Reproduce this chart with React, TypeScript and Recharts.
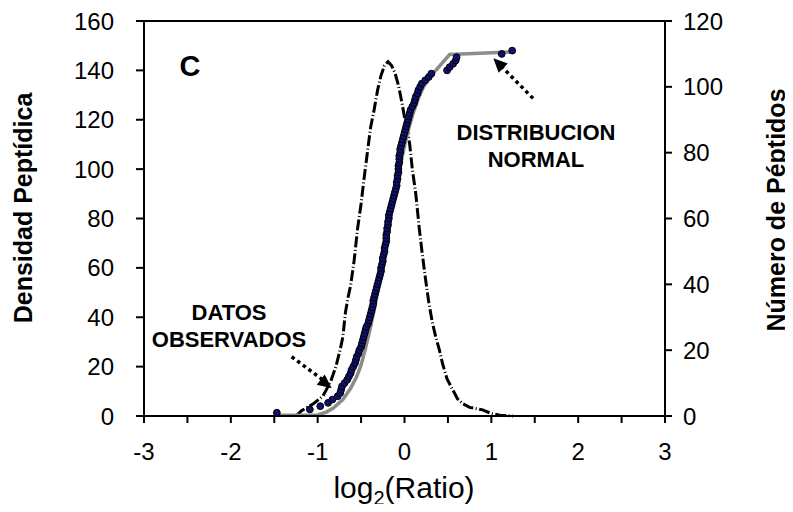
import React from "react";
import {
  ComposedChart,
  Line,
  Scatter,
  XAxis,
  YAxis,
  ReferenceLine,
  ReferenceDot,
} from "recharts";

const FONT = "'Liberation Sans', Arial, Helvetica, sans-serif";

// axis ticks
const xTicks = [-3, -2.5, -2, -1.5, -1, -0.5, 0, 0.5, 1, 1.5, 2, 2.5, 3];
const densityTicks = [0, 20, 40, 60, 80, 100, 120, 140, 160];
const countTicks = [0, 20, 40, 60, 80, 100, 120];

// peptide density (left axis)
const densityX = [
  -1.25, -1.19, -1.05, -0.94, -0.85, -0.79, -0.74, -0.71, -0.68, -0.65, -0.62,
  -0.58, -0.54, -0.5, -0.47, -0.43, -0.39, -0.35, -0.31, -0.27, -0.23, -0.19,
  -0.15, -0.11, -0.07, -0.03, 0.0, 0.03, 0.06, 0.09, 0.13, 0.17, 0.2, 0.24,
  0.28, 0.32, 0.36, 0.4, 0.44, 0.49, 0.55, 0.61, 0.67, 0.75, 0.9, 1.0, 1.1,
  1.25,
];
const densityY = [
  0, 2, 5, 8, 14, 20, 27, 32, 42, 48, 53, 63, 76, 86, 95, 106, 117, 124, 132,
  138, 142, 143.5, 142, 139, 134, 127, 121, 117, 110, 100, 90, 76, 67, 56, 46,
  38, 32, 27, 21, 15, 11, 7, 5, 3.5, 2.5, 1, 0.3, 0,
];

// fitted normal distribution, cumulative (right axis)
const normalX = [
  -1.48, -1.0, -0.9, -0.82, -0.71, -0.62, -0.55, -0.5, -0.45, -0.4, -0.35, -0.3,
  -0.25, -0.2, -0.15, -0.1, -0.05, 0.0, 0.05, 0.1, 0.16, 0.22, 0.31, 0.52, 1.24,
];
const normalN = [
  0.2, 0.3, 1.2, 2.4, 5, 8.4, 12, 15.5, 20.5, 26, 32, 39, 46, 54, 62, 69, 76,
  82, 87.5, 92, 96.5, 100, 103.5, 109.8, 110.6,
];

// observed peptides, cumulative (right axis)
const observedX = [
  -1.47, -1.09, -0.97, -0.88, -0.83, -0.77, -0.74, -0.73, -0.72, -0.69,
  -0.66, -0.64, -0.62, -0.61, -0.59, -0.57, -0.56, -0.55, -0.53, -0.52,
  -0.5, -0.49, -0.48, -0.47, -0.46, -0.45, -0.44, -0.42, -0.41, -0.4,
  -0.39, -0.38, -0.37, -0.36, -0.36, -0.35, -0.34, -0.33, -0.32, -0.31,
  -0.3, -0.29, -0.28, -0.27, -0.27, -0.26, -0.25, -0.25, -0.24, -0.23,
  -0.23, -0.22, -0.21, -0.21, -0.21, -0.2, -0.2, -0.19, -0.19, -0.18,
  -0.18, -0.17, -0.16, -0.15, -0.14, -0.13, -0.12, -0.11, -0.1, -0.09,
  -0.09, -0.08, -0.08, -0.07, -0.07, -0.07, -0.06, -0.06, -0.06, -0.05,
  -0.05, -0.04, -0.03, -0.02, -0.01, 0.0, 0.01, 0.02, 0.03, 0.04,
  0.05, 0.06, 0.07, 0.09, 0.11, 0.12, 0.13, 0.15, 0.16, 0.18,
  0.2, 0.24, 0.28, 0.31, 0.49, 0.52, 0.56, 0.59, 0.6, 1.12, 1.24,
];
const observedN = [
  1, 2, 3, 4, 5, 6, 7, 8, 9, 10,
  11, 12, 13, 14, 15, 16, 17, 18, 19, 20,
  21, 22, 23, 24, 25, 26, 27, 28, 29, 30,
  31, 32, 33, 34, 35, 36, 37, 38, 39, 40,
  41, 42, 43, 44, 45, 46, 47, 48, 49, 50,
  51, 52, 53, 54, 55, 56, 57, 58, 59, 60,
  61, 62, 63, 64, 65, 66, 67, 68, 69, 70,
  71, 72, 73, 74, 75, 76, 77, 78, 79, 80,
  81, 82, 83, 84, 85, 86, 87, 88, 89, 90,
  91, 92, 93, 94, 95, 96, 97, 98, 99, 100,
  101, 102, 103, 104, 105, 106, 107, 108, 109, 110, 111,
];

const densityData = densityX.map((x, i) => ({ x, y: densityY[i] }));
const normalData = normalX.map((x, i) => ({ x, y: normalN[i] }));
const observedData = observedX.map((x, i) => ({ x, y: observedN[i] }));

const tickStyle = { fill: "#000", fontSize: 24, fontFamily: FONT };
const axisStroke = { stroke: "#000", strokeWidth: 2 };

const Dot = (props: any) => (
  <circle cx={props.cx} cy={props.cy} r={3.4} fill="#10106e" stroke="#000" strokeWidth={1} />
);

const arrowHead = (angle: number) => (props: any) => (
  <polygon
    points="0,0 -14,-6.5 -14,6.5"
    fill="#000"
    transform={`translate(${props.cx},${props.cy}) rotate(${angle})`}
  />
);

const App = () => {
  return (
    <div style={{ position: "relative", width: 777, height: 496, fontFamily: FONT }}>
      <ComposedChart
        width={777}
        height={496}
        margin={{ top: 13, right: 60, bottom: 38, left: 76 }}
      >
        <XAxis
          dataKey="x"
          type="number"
          domain={[-3, 3]}
          ticks={xTicks}
          tickFormatter={(v: number) => (Number.isInteger(v) ? String(v) : "")}
          height={50}
          tickSize={7}
          tickMargin={20}
          tick={tickStyle}
          axisLine={axisStroke}
          tickLine={axisStroke}
        />
        <YAxis
          yAxisId="left"
          type="number"
          domain={[0, 160]}
          ticks={densityTicks}
          width={60}
          tickSize={8}
          tickMargin={22}
          tick={tickStyle}
          axisLine={axisStroke}
          tickLine={axisStroke}
        />
        <YAxis
          yAxisId="right"
          orientation="right"
          type="number"
          domain={[0, 120]}
          ticks={countTicks}
          width={60}
          tickSize={7}
          tickMargin={11}
          tick={{ ...tickStyle, textAnchor: "start" }}
          axisLine={axisStroke}
          tickLine={axisStroke}
        />
        <ReferenceLine yAxisId="left" y={160} stroke="#000" strokeWidth={2} />

        <Line
          yAxisId="left"
          data={densityData}
          dataKey="y"
          type="linear"
          stroke="#000"
          strokeWidth={3}
          strokeDasharray="11 2.5 1 2.5"
          dot={false}
          isAnimationActive={false}
        />
        <Line
          yAxisId="right"
          data={normalData}
          dataKey="y"
          type="linear"
          stroke="#8c8c8c"
          strokeWidth={3.5}
          dot={false}
          isAnimationActive={false}
        />
        <Scatter
          yAxisId="right"
          data={observedData}
          dataKey="y"
          shape={Dot}
          isAnimationActive={false}
        />

        {/* annotation arrows */}
        <ReferenceLine
          yAxisId="right"
          segment={[{ x: 1.48, y: 96.5 }, { x: 1.08, y: 107.2 }]}
          stroke="#000"
          strokeWidth={3.5}
          strokeDasharray="3.5 3.5"
        />
        <ReferenceDot yAxisId="right" x={1.023} y={108.7} r={0} shape={arrowHead(-135)} />
        <ReferenceLine
          yAxisId="right"
          segment={[{ x: -1.3, y: 18 }, { x: -0.9, y: 10.2 }]}
          stroke="#000"
          strokeWidth={3.5}
          strokeDasharray="3.5 3.5"
        />
        <ReferenceDot yAxisId="right" x={-0.838} y={8.4} r={0} shape={arrowHead(38)} />
      </ComposedChart>

      <svg
        width={785}
        height={504}
        style={{ position: "absolute", left: 0, top: 0, pointerEvents: "none" }}
        fontFamily={FONT}
      >
        <text x={182} y={68} fontSize={29} fontWeight="bold" textAnchor="middle">C</text>
        <text x={528} y={132} fontSize={22} fontWeight="bold" textAnchor="middle">DISTRIBUCION</text>
        <text x={528} y={159} fontSize={22} fontWeight="bold" textAnchor="middle">NORMAL</text>
        <text x={221} y={312} fontSize={22} fontWeight="bold" textAnchor="middle">DATOS</text>
        <text x={221} y={339} fontSize={22} fontWeight="bold" textAnchor="middle">OBSERVADOS</text>
        <text
          x={15}
          y={200}
          fontSize={25}
          fontWeight="bold"
          textAnchor="middle"
          dominantBaseline="central"
          transform="rotate(-90 15 200)"
        >
          Densidad Peptídica
        </text>
        <text
          x={768}
          y={202}
          fontSize={25}
          fontWeight="bold"
          textAnchor="middle"
          dominantBaseline="central"
          transform="rotate(-90 768 202)"
        >
          Número de Péptidos
        </text>
        <text x={396} y={490} fontSize={30} textAnchor="middle">
          log<tspan dy={7} fontSize={20}>2</tspan>
          <tspan dy={-7}>(Ratio)</tspan>
        </text>
      </svg>
    </div>
  );
};

export default App;
